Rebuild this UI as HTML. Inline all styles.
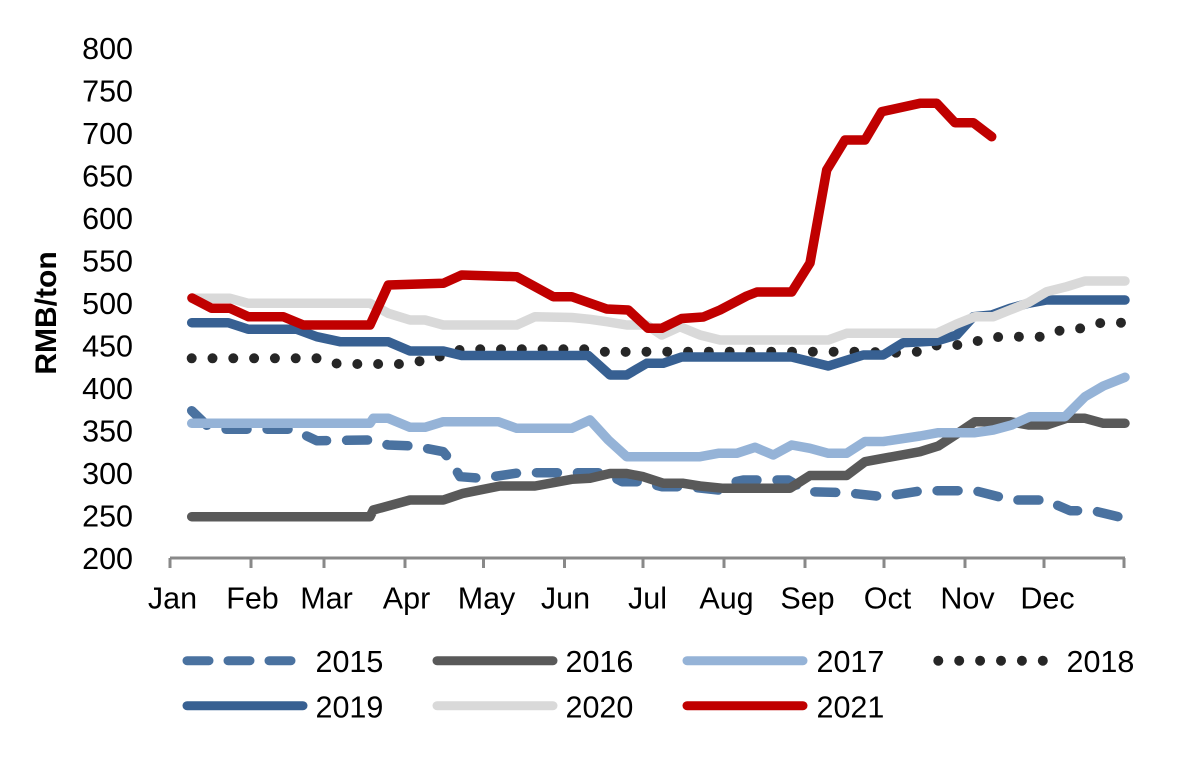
<!DOCTYPE html>
<html>
<head>
<meta charset="utf-8">
<style>
html,body{margin:0;padding:0;background:#fff;}
svg{display:block;}
text{font-family:"Liberation Sans",Arial,sans-serif;fill:#000;}
</style>
</head>
<body>
<svg width="1178" height="758" viewBox="0 0 1178 758" xmlns="http://www.w3.org/2000/svg">
<rect width="1178" height="758" fill="#fff"/>

<!-- Y axis labels -->
<g font-size="30.5" text-anchor="end">
<text x="133" y="59">800</text>
<text x="133" y="101.5">750</text>
<text x="133" y="144">700</text>
<text x="133" y="186.5">650</text>
<text x="133" y="229">600</text>
<text x="133" y="271.5">550</text>
<text x="133" y="314">500</text>
<text x="133" y="356.5">450</text>
<text x="133" y="399">400</text>
<text x="133" y="441.5">350</text>
<text x="133" y="484">300</text>
<text x="133" y="526.5">250</text>
<text x="133" y="569">200</text>
</g>
<text transform="translate(56,313) rotate(-90)" font-size="30" font-weight="bold" text-anchor="middle">RMB/ton</text>

<!-- X axis -->
<g stroke="#898989" stroke-width="3" fill="none">
<line x1="170" y1="558" x2="1125" y2="558"/>
<line x1="170" y1="558" x2="170" y2="568"/>
<line x1="251" y1="558" x2="251" y2="568"/>
<line x1="324" y1="558" x2="324" y2="568"/>
<line x1="405" y1="558" x2="405" y2="568"/>
<line x1="483.5" y1="558" x2="483.5" y2="568"/>
<line x1="564.5" y1="558" x2="564.5" y2="568"/>
<line x1="643" y1="558" x2="643" y2="568"/>
<line x1="724" y1="558" x2="724" y2="568"/>
<line x1="805" y1="558" x2="805" y2="568"/>
<line x1="884" y1="558" x2="884" y2="568"/>
<line x1="965" y1="558" x2="965" y2="568"/>
<line x1="1044" y1="558" x2="1044" y2="568"/>
<line x1="1124" y1="558" x2="1124" y2="568"/>
</g>
<g font-size="30.5" text-anchor="middle">
<text x="172.5" y="608.5">Jan</text>
<text x="252.5" y="608.5">Feb</text>
<text x="326.5" y="608.5">Mar</text>
<text x="406.5" y="608.5">Apr</text>
<text x="486.5" y="608.5">May</text>
<text x="565.5" y="608.5">Jun</text>
<text x="647.5" y="608.5">Jul</text>
<text x="726.5" y="608.5">Aug</text>
<text x="807.5" y="608.5">Sep</text>
<text x="887.5" y="608.5">Oct</text>
<text x="967.5" y="608.5">Nov</text>
<text x="1047.5" y="608.5">Dec</text>
</g>

<!-- Series -->
<g fill="none" stroke-width="9.5" stroke-linecap="round" stroke-linejoin="round">
<!-- 2015 -->
<polyline stroke="#4a72a0" stroke-dasharray="21 20" points="191.7,410.7 208.3,426.7 226.7,429.3 291.7,429.3 308.3,436.7 316.7,440.7 370,440 388.3,445 413.3,446 443.3,451.7 450,460 460,476.7 481.7,478.3 520,472.7 605,472.7 622,481.7 643,481.7 661.7,486.7 686.7,486.7 718.3,490 728.3,483.3 743.3,480 788.3,480 808,491.7 846.7,492.7 883.3,496.7 921.7,490.7 975,490.7 1011.7,500 1046.7,500 1053,503.3 1070,510.7 1093.3,510.7 1125,518.3"/>
<!-- 2016 -->
<polyline stroke="#595959" points="191.7,516.7 370,516.7 373.3,510 410,500 443.3,500 463.3,493.3 500,486 535,486 553.3,482.7 571.7,479.3 590,478.3 610,473.5 626.7,473.5 643.3,476.7 663.3,483.3 683.3,483.3 700,486 723.3,488.3 790,488.3 810,475.5 846.7,475.5 865,461.7 883.3,458.3 920,451.7 938.3,446 956.7,434 975,421.7 1010,421.7 1028.3,425 1046.7,425 1066.7,418.3 1085,418.3 1103.3,423.3 1125,423.3"/>
<!-- 2017 -->
<polyline stroke="#95b3d7" points="191.7,423.3 370,423.3 373.3,418.3 388.3,418.3 410,427.3 425,427.3 443.3,421.7 498.3,421.7 516.7,428.3 571.7,428.3 590,420 608.3,440 626.7,456.7 700,456.7 718.3,453.3 736.7,453.3 755,447.3 773.3,455 791.7,445 810,448.3 828.3,453.3 846.7,453.3 865,441.5 883.3,441.5 920,436 938.3,432.7 975,432.7 993.3,430 1011.7,425 1030,416.7 1065,416.7 1085,396.7 1103.3,386 1125,377.3"/>
<!-- 2018 -->
<polyline stroke="#262626" stroke-width="10" stroke-dasharray="0 20.8" points="191.7,358.3 317.7,358.3 338.3,364 400.3,364 421,361 441.7,356 461.7,349.3 586.7,349.3 606.7,352 648,351.7 793,351.7 856.7,351.7 898,352.7 918,351.7 938,345 958,345 979,340.7 1000,336.7 1041.7,336.7 1061.7,330 1081.7,328.3 1101.7,322.7 1125,322.7"/>
<!-- 2019 -->
<polyline stroke="#376092" points="191.7,322.7 228.3,322.7 248.3,329.3 296.7,329.3 316.7,336.7 340,341.7 388.3,341.7 410,351 443.3,351 461.7,355.5 588.3,355.5 610,375 626.7,375 646.7,363.3 663.3,363.3 681.7,357 791.7,357 828.3,366 863.3,355 883.3,355 903.3,342.7 936.7,341 956.7,335 973.3,316.7 991.7,315 1010,308.3 1028.3,303.3 1046.7,300 1125,300"/>
<!-- 2020 -->
<polyline stroke="#d9d9d9" points="191.7,298.3 230,298.3 248.3,303.3 370,303.3 388.3,313.3 410,320 425,320 443.3,325 516.7,325 535,316.7 571.7,317.5 590,319.3 606.7,321.7 626.7,325 646.7,325 661.7,335 680,326.7 700,335 720,340 828.3,340 846.7,333.3 936.7,333.3 956.7,324 975,316.7 993.3,316.7 1010,310 1028.3,302.7 1046.7,291.7 1066.7,286.7 1085,281 1125,281"/>
<!-- 2021 -->
<polyline stroke="#c00000" points="192,298 211.7,308.3 230,308.3 248.3,316.7 283.3,316.7 303.3,325 370,325 388.3,285 443.3,283.3 461.7,275 516.7,276.7 553.3,296.7 571.7,296.7 606.7,309 628.3,310 648,328.3 661.7,328.3 681.7,318.5 703.3,317 720,310 746.7,296 757,292 791.7,292 810,263 826.7,170 845,140 865,140 881.7,111.7 920,103.3 936.7,103.3 955,122.7 973.3,122.7 991.7,136.7"/>
</g>

<!-- Legend -->
<g fill="none" stroke-width="9" stroke-linecap="round">
<line x1="187" y1="660.7" x2="293" y2="660.7" stroke="#4a72a0" stroke-dasharray="22 19"/>
<line x1="437" y1="660.7" x2="553" y2="660.7" stroke="#595959"/>
<line x1="687" y1="660.7" x2="803" y2="660.7" stroke="#95b3d7"/>
<line x1="938.3" y1="660.7" x2="1043" y2="660.7" stroke="#262626" stroke-width="10" stroke-dasharray="0 20.9"/>
<line x1="187" y1="705.7" x2="303" y2="705.7" stroke="#376092"/>
<line x1="437" y1="705.7" x2="553" y2="705.7" stroke="#d9d9d9"/>
<line x1="687" y1="705.7" x2="803" y2="705.7" stroke="#c00000"/>
</g>
<g font-size="30.5">
<text x="315.5" y="672">2015</text>
<text x="565.5" y="672">2016</text>
<text x="816.5" y="672">2017</text>
<text x="1066.5" y="672">2018</text>
<text x="315.5" y="717.5">2019</text>
<text x="565.5" y="717.5">2020</text>
<text x="816.5" y="717.5">2021</text>
</g>
</svg>
</body>
</html>
